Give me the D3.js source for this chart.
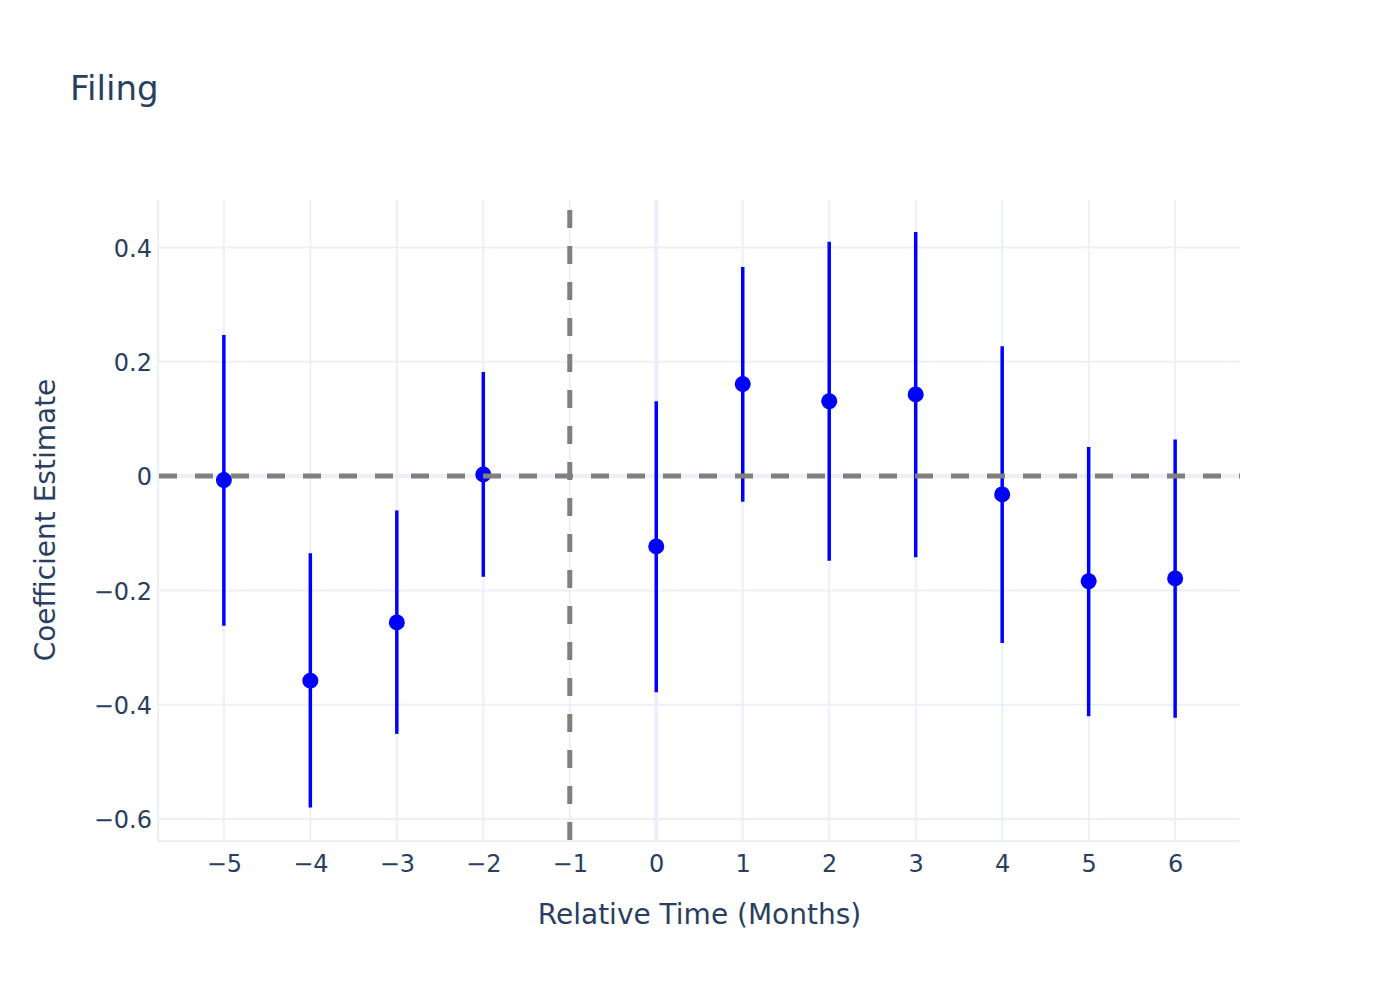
<!DOCTYPE html>
<html>
<head>
<meta charset="utf-8">
<script src="https://cdn.jsdelivr.net/npm/d3@7"></script>
<style>
  html, body { margin: 0; padding: 0; background: #fff; }
  svg { display: block; }
  text { font-family: "DejaVu Sans", Verdana, sans-serif; fill: #2a3f5f; }
</style>
</head>
<body>
<svg id="chart" width="1400" height="1000"></svg>
<script>
// ---- Data ----
const relTime = [-5, -4, -3, -2, 0, 1, 2, 3, 4, 5, 6];
const coef    = [-0.007, -0.358, -0.256, 0.003, -0.123, 0.161, 0.131, 0.143, -0.032, -0.184, -0.179];
const ciUpper = [0.247, -0.135, -0.060, 0.182, 0.131, 0.366, 0.410, 0.427, 0.227, 0.051, 0.064];
const ciLower = [-0.262, -0.580, -0.451, -0.176, -0.378, -0.045, -0.148, -0.142, -0.292, -0.420, -0.423];

const xTicks = [-5, -4, -3, -2, -1, 0, 1, 2, 3, 4, 5, 6];
const yTicks = [-0.6, -0.4, -0.2, 0, 0.2, 0.4];
const xRange = [-5.75, 6.75];
const yRange = [-0.6367, 0.4831];
const refX = -1;   // vertical reference line (treatment)
const refY = 0;    // horizontal reference line

const titleText = "Filing";
const xTitle = "Relative Time (Months)";
const yTitle = "Coefficient Estimate";

// ---- Layout ----
const W = 1400, H = 1000;
const M = { left: 159, right: 160, top: 200, bottom: 160 };
const pw = W - M.left - M.right, ph = H - M.top - M.bottom;

const svg = d3.select("#chart");
svg.append("rect").attr("width", W).attr("height", H).attr("fill", "#fff");

const x = d3.scaleLinear().domain(xRange).range([M.left, M.left + pw]);
const y = d3.scaleLinear().domain(yRange).range([M.top + ph, M.top]);

const gridColor = "#EBF0F8";
const fmt = d => d3.format("~g")(d);

// grid lines
const grid = svg.append("g");
grid.selectAll(".xg").data(xTicks.filter(d => d !== 0)).join("line")
  .attr("x1", d => x(d)).attr("x2", d => x(d))
  .attr("y1", M.top).attr("y2", M.top + ph)
  .attr("stroke", gridColor).attr("stroke-width", 2);
grid.selectAll(".yg").data(yTicks.filter(d => d !== 0)).join("line")
  .attr("x1", M.left).attr("x2", M.left + pw)
  .attr("y1", d => y(d)).attr("y2", d => y(d))
  .attr("stroke", gridColor).attr("stroke-width", 2);
// zero lines
grid.append("line").attr("x1", x(0)).attr("x2", x(0)).attr("y1", M.top).attr("y2", M.top + ph)
  .attr("stroke", gridColor).attr("stroke-width", 4);
grid.append("line").attr("x1", M.left).attr("x2", M.left + pw).attr("y1", y(0)).attr("y2", y(0))
  .attr("stroke", gridColor).attr("stroke-width", 4);
// axis lines (left & bottom)
grid.append("line").attr("x1", M.left - 1).attr("x2", M.left - 1).attr("y1", M.top).attr("y2", M.top + ph + 2)
  .attr("stroke", gridColor).attr("stroke-width", 2);
grid.append("line").attr("x1", M.left - 2).attr("x2", M.left + pw).attr("y1", M.top + ph + 1).attr("y2", M.top + ph + 1)
  .attr("stroke", gridColor).attr("stroke-width", 2);

// axes (labels only) via d3 axes
const xAxis = d3.axisBottom(x).tickValues(xTicks).tickFormat(fmt).tickSize(0).tickPadding(0);
const gx = svg.append("g").attr("transform", `translate(0,${M.top + ph})`).call(xAxis);
gx.select(".domain").remove();
gx.selectAll("text").attr("font-size", 24).attr("dy", null).attr("y", 32)
  .style("font-family", '"DejaVu Sans", Verdana, sans-serif').attr("fill", "#2a3f5f");

const yAxis = d3.axisLeft(y).tickValues(yTicks).tickFormat(fmt).tickSize(0).tickPadding(0);
const gy = svg.append("g").attr("transform", `translate(${M.left - 7},0)`).call(yAxis);
gy.select(".domain").remove();
gy.selectAll("text").attr("font-size", 24).attr("dy", "0.36em").attr("x", 0)
  .style("font-family", '"DejaVu Sans", Verdana, sans-serif').attr("fill", "#2a3f5f");

// error bars + markers
const pts = relTime.map((t, i) => ({ t, c: coef[i], lo: ciLower[i], hi: ciUpper[i] }));
const traces = svg.append("g");
traces.selectAll(".err").data(pts).join("line")
  .attr("x1", d => x(d.t)).attr("x2", d => x(d.t))
  .attr("y1", d => y(d.lo)).attr("y2", d => y(d.hi))
  .attr("stroke", "#0000ff").attr("stroke-width", 3.5);
traces.selectAll(".pt").data(pts).join("circle")
  .attr("cx", d => x(d.t)).attr("cy", d => y(d.c)).attr("r", 8)
  .attr("fill", "#0000ff");

// reference dashed lines (above traces)
const shapes = svg.append("g");
shapes.append("line")
  .attr("x1", M.left).attr("x2", M.left + pw).attr("y1", y(refY)).attr("y2", y(refY))
  .attr("stroke", "#808080").attr("stroke-width", 5).attr("stroke-dasharray", "18,18");
shapes.append("line")
  .attr("x1", x(refX)).attr("x2", x(refX)).attr("y1", M.top + ph).attr("y2", M.top)
  .attr("stroke", "#808080").attr("stroke-width", 5).attr("stroke-dasharray", "18,18");

// titles
svg.append("text").attr("x", 70).attr("y", 100).attr("font-size", 34).text(titleText);
svg.append("text").attr("x", M.left + pw / 2).attr("y", 924).attr("text-anchor", "middle")
  .attr("font-size", 28).text(xTitle);
svg.append("text").attr("transform", `translate(55,${M.top + ph / 2}) rotate(-90)`)
  .attr("text-anchor", "middle").attr("font-size", 28).text(yTitle);
</script>
</body>
</html>
